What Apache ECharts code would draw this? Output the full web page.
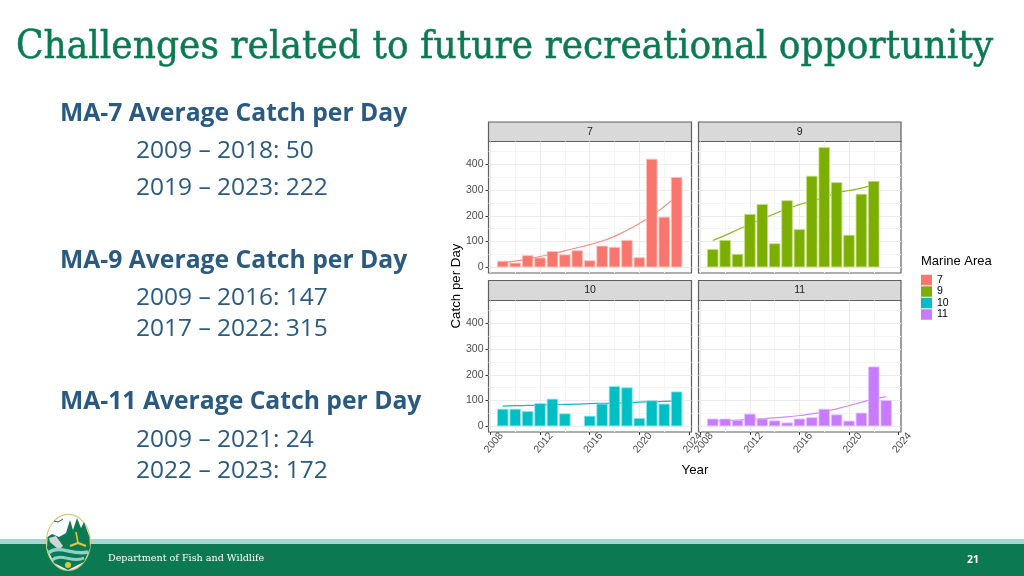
<!DOCTYPE html>
<html>
<head>
<meta charset="utf-8">
<style>html,body{margin:0;padding:0;background:#fff}#c{width:1024px;height:576px}</style>
<script src="https://cdn.jsdelivr.net/npm/echarts@6/dist/echarts.min.js"></script>
</head>
<body>
<div id="c"></div>
<script>
const years = [2009,2010,2011,2012,2013,2014,2015,2016,2017,2018,2019,2020,2021,2022,2023];
const areas = ['7','9','10','11'];
const catch7  = [25,18,47,38,63,50,66,27,84,79,106,39,421,196,350];
const catch9  = [71,106,52,207,245,93,260,148,355,466,330,126,285,335,null];
const catch10 = [68,68,59,90,107,50,null,41,88,156,151,32,101,88,135];
const catch11 = [30,30,25,49,30,23,15,30,35,68,46,22,53,232,102];
const trend7  = [18,24,32,42,52,64,76,88,102,120,144,170,200,236,276];
const trend9  = [104,124,146,167,188,208,227,243,258,271,289,298,307,320,null];
const trend10 = [78,80,81,82,84,85,86,88,89,90,92,94,95,97,99];
const trend11 = [20,22,24,27,30,33,37,42,48,57,68,80,93,105,115];
const xTicks = [2008,2012,2016,2020,2024];
const xMinor = [2010,2014,2018,2022];
const yTicks = [0,100,200,300,400];
const yMinor = [50,150,250,350,450];
const colors = ['#F8766D','#7CAE00','#00BFC4','#C77CFF'];
const lineColors = ['#F98F88','#8DB81E','#1FB5BA','#CC8CFF'];
const edgeColors = ['#FCC3BE','#C4DE80','#90E5E8','#E6C4FF'];
const barValues = [catch7,catch9,catch10,catch11];
const trendValues = [trend7,trend9,trend10,trend11];
const titleText = 'Challenges related to future recreational opportunity';
const footerText = 'Department of Fish and Wildlife';
const pageNumber = '21';
const blocks = [
  {head:'MA-7 Average Catch per Day', y:114, rows:[['2009 – 2018: 50',151],['2019 – 2023: 222',188]]},
  {head:'MA-9 Average Catch per Day', y:261, rows:[['2009 – 2016: 147',298],['2017 – 2022: 315',329]]},
  {head:'MA-11 Average Catch per Day', y:402, rows:[['2009 – 2021: 24',440],['2022 – 2023: 172',471]]}
];

const panels = [
  {l:488.5,t:141.5,w:203,h:131.5,strip:122},
  {l:698.5,t:141.5,w:202.5,h:131.5,strip:122},
  {l:488.5,t:300.5,w:203,h:131.5,strip:280.5},
  {l:698.5,t:300.5,w:202.5,h:131.5,strip:280.5}
];
const AX = 'Liberation Sans';
const grey = '#4d4d4d';
const T = (x,y,text,font,fill,extra,el) => Object.assign({type:'text',silent:true,x,y,style:Object.assign({text,font,fill,textVerticalAlign:'middle'},extra||{})},el||{});

const grids = panels.map(p=>({left:p.l,top:p.t,width:p.w,height:p.h,show:true,backgroundColor:'#fff',borderColor:'#5f5f5f',borderWidth:1.2,containLabel:false}));
const xAxes = panels.map((p,i)=>({
  type:'value',gridIndex:i,min:2007.85,max:2024.2,position:'bottom',
  axisLine:{show:false,onZero:false},
  axisTick:{show:i>=2,length:3,lineStyle:{color:'#333'},customValues:xTicks},
  axisLabel:{show:i>=2,customValues:xTicks,rotate:50,align:'center',verticalAlign:'middle',padding:[0,0,0,11],color:grey,fontFamily:AX,fontSize:10.5,margin:15,formatter:v=>String(v),hideOverlap:false,showMinLabel:true,showMaxLabel:true},
  splitLine:{show:false}
}));
const yAxes = panels.map((p,i)=>({
  type:'value',gridIndex:i,min:-22,max:488,
  axisLine:{show:false,onZero:false},
  axisTick:{show:i%2===0,length:3,lineStyle:{color:'#333'},customValues:yTicks},
  axisLabel:{show:i%2===0,customValues:yTicks,color:grey,fontFamily:AX,fontSize:10.5,margin:5,formatter:v=>String(v)},
  splitLine:{show:false}
}));
const guide = (vals,axis,color) => vals.map(v=>({[axis]:v,lineStyle:{color,width:1,type:'solid'}}));
const series = [];
panels.forEach((p,i)=>{
  series.push({
    type:'line',name:'trend'+areas[i],xAxisIndex:i,yAxisIndex:i,z:2,smooth:true,showSymbol:false,silent:true,
    lineStyle:{color:lineColors[i],width:1.2},itemStyle:{color:lineColors[i]},
    data:years.map((y,k)=>[y,trendValues[i][k]]).filter(d=>d[1]!==null),
    markLine:{silent:true,symbol:'none',label:{show:false},animation:false,z:1,
      data:[...guide(xMinor,'xAxis','#f5f5f5'),...guide(yMinor,'yAxis','#f5f5f5'),
            ...guide(xTicks.filter(v=>v<2024),'xAxis','#ebebeb'),...guide(yTicks,'yAxis','#ebebeb')]}
  });
  series.push({
    type:'bar',name:areas[i],xAxisIndex:i,yAxisIndex:i,z:3,barWidth:11.4,
    itemStyle:{color:colors[i],borderColor:edgeColors[i],borderWidth:0.8},
    data:years.map((y,k)=>[y,barValues[i][k]]).filter(d=>d[1]!==null)
  });
});

const graphic = [];
// heading
graphic.push(T(15,47.5,titleText,'38.5px "DejaVu Serif"','#0B7A53',{stroke:'#0B7A53',lineWidth:0.5},{scaleX:0.937,originX:15}));
// side text
blocks.forEach(b=>{
  graphic.push(T(60,b.y,b.head,'bold 24.7px "Open Sans"','#2A5A80'));
  b.rows.forEach(r=>graphic.push(T(136,r[1],r[0],'24.5px "Open Sans"','#2A5A80')));
});
// strips
panels.forEach((p,i)=>{
  graphic.push({type:'rect',silent:true,shape:{x:p.l,y:p.strip,width:p.w,height:p.t-p.strip},style:{fill:'#d9d9d9',stroke:'#5f5f5f',lineWidth:1.2}});
  graphic.push(T(p.l+p.w/2,(p.strip+p.t)/2,areas[i],'10.5px "Liberation Sans"','#1a1a1a',{textAlign:'center'}));
});
// axis titles and legend title
graphic.push({type:'text',silent:true,x:456,y:286,rotation:Math.PI/2,style:{text:'Catch per Day',font:'13.3px "Liberation Sans"',fill:'#000',textAlign:'center',textVerticalAlign:'middle'}});
graphic.push(T(695,470,'Year','13.3px "Liberation Sans"','#000',{textAlign:'center'}));
graphic.push(T(921,261.5,'Marine Area','13px "Liberation Sans"','#000'));
// footer
graphic.push({type:'rect',silent:true,shape:{x:0,y:539,width:1024,height:5},style:{fill:'#A6D6D3'}});
graphic.push({type:'rect',silent:true,shape:{x:0,y:544,width:1024,height:32},style:{fill:'#0B7A53'}});
graphic.push(T(108,558.5,footerText,'9.6px "DejaVu Serif"','#fff'));
graphic.push(T(973,560.5,pageNumber,'bold 10.5px "Open Sans"','#fff',{textAlign:'center'}));
// logo
const logo = [
  {type:'ellipse',shape:{cx:68.3,cy:542.3,rx:22,ry:28},style:{fill:'#fff',stroke:'#D9C77A',lineWidth:1.2}},
  {type:'polygon',shape:{points:[[47.5,537],[52,534],[59,537],[66,533],[70,520],[73,530],[77,518],[81,528],[84,522],[89.5,537],[90,548],[84,562],[68,570],[54,563],[47,548]]},style:{fill:'#0B7A53'}},
  {type:'polygon',shape:{points:[[49,538],[56,536],[63,546],[59,550],[50,542]]},style:{fill:'#CFD6D6'}},
  {type:'polyline',shape:{points:[[70,546],[78,543],[86,546]]},style:{stroke:'#E3C437',lineWidth:2.2,fill:'none'}},
  {type:'polyline',shape:{points:[[78,543],[76,532]]},style:{stroke:'#E3C437',lineWidth:1.6,fill:'none'}},
  {type:'bezierCurve',shape:{x1:48,y1:553,cpx1:60,cpy1:544,cpx2:72,cpy2:556,x2:88,y2:552},style:{stroke:'#8FD0C8',lineWidth:3.5,fill:'none'}},
  {type:'bezierCurve',shape:{x1:52,y1:560,cpx1:62,cpy1:552,cpx2:72,cpy2:564,x2:84,y2:558},style:{stroke:'#8FD0C8',lineWidth:3,fill:'none'}},
  {type:'circle',shape:{cx:68,cy:565,r:3},style:{fill:'#E3C437'}},
  {type:'polyline',shape:{points:[[54,521],[58,522],[63,519]]},style:{stroke:'#2A5A80',lineWidth:1,fill:'none'}}
];
logo.forEach(g=>{g.silent=true;graphic.push(g)});

const chart = echarts.init(document.getElementById('c'),null,{renderer:'canvas'});
chart.setOption({
  animation:false,backgroundColor:'#fff',
  grid:grids,xAxis:xAxes,yAxis:yAxes,series,graphic,
  legend:{data:areas,orient:'vertical',left:921,top:274.5,padding:0,itemWidth:11,itemHeight:10.5,itemGap:0.5,icon:'rect',selectedMode:false,
    itemStyle:{borderWidth:0},
    textStyle:{fontFamily:AX,fontSize:10.5,lineHeight:10.5,color:'#000'}}
});
</script>
</body>
</html>
